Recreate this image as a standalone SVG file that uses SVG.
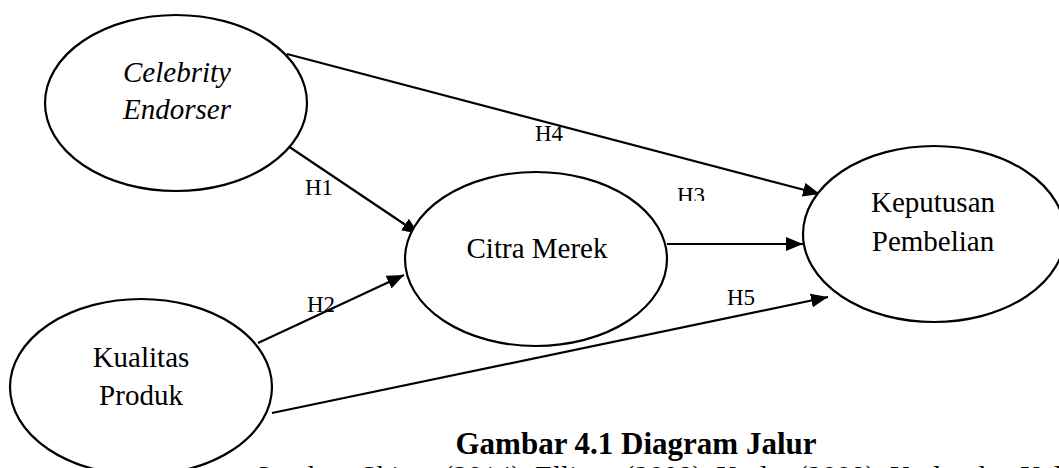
<svg xmlns="http://www.w3.org/2000/svg" width="1059" height="468" viewBox="0 0 1059 468">
<style>
.node{fill:#fff;stroke:#000;stroke-width:2.2}
.t{font-family:"Liberation Serif","Times New Roman",serif;font-size:29px;fill:#000;text-anchor:middle}
.lbl{font-family:"Liberation Serif","Times New Roman",serif;font-size:23px;fill:#000}
.edge{stroke:#000;stroke-width:2.2;fill:none;marker-end:url(#ah)}
</style>
<defs>
<marker id="ah" markerUnits="userSpaceOnUse" markerWidth="18" markerHeight="14" refX="17" refY="7" orient="auto">
<path d="M0,0 L17,7 L0,14 z" fill="#000"/>
</marker>
<clipPath id="h3clip"><rect x="660" y="170" width="60" height="31"/></clipPath>
</defs>
<rect width="1059" height="468" fill="#fff"/>
<g id="connectors">
<line class="edge" x1="287" y1="54" x2="820" y2="194"/>
<line class="edge" x1="288" y1="146" x2="419" y2="234"/>
<line class="edge" x1="258" y1="343" x2="404" y2="275"/>
<line class="edge" x1="667" y1="244" x2="803" y2="244"/>
<line class="edge" x1="272" y1="413" x2="828" y2="297"/>
<text class="lbl" x="535" y="141">H4</text>
<text class="lbl" x="305" y="195">H1</text>
<text class="lbl" x="307" y="312">H2</text>
<text class="lbl" x="677" y="203" clip-path="url(#h3clip)">H3</text>
<text class="lbl" x="727" y="305">H5</text>
</g>
<g id="celebrity-endorser">
<ellipse class="node" cx="176" cy="103" rx="131" ry="88"/>
<text class="t" x="177" y="82" font-style="italic">Celebrity</text>
<text class="t" x="177" y="119" font-style="italic">Endorser</text>
</g>
<g id="citra-merek">
<ellipse class="node" cx="536" cy="259" rx="131" ry="87"/>
<text class="t" x="537" y="258">Citra Merek</text>
</g>
<g id="kualitas-produk">
<ellipse class="node" cx="141" cy="387" rx="131" ry="88"/>
<text class="t" x="141" y="367">Kualitas</text>
<text class="t" x="141" y="405">Produk</text>
</g>
<g id="keputusan-pembelian">
<ellipse class="node" cx="934" cy="234" rx="131" ry="88"/>
<text class="t" x="933" y="212">Keputusan</text>
<text class="t" x="933" y="251">Pembelian</text>
</g>
<g id="caption">
<text x="636" y="454" font-family="'Liberation Serif','Times New Roman',serif" font-size="31" font-weight="bold" text-anchor="middle" fill="#000">Gambar 4.1 Diagram Jalur</text>
<text x="255" y="486" font-family="'Liberation Serif','Times New Roman',serif" font-size="29" fill="#000">Sumber: Shimp (2014), Ellison (2008), Kotler (2008), Kotler dan Keller (2016)</text>
</g>
</svg>
